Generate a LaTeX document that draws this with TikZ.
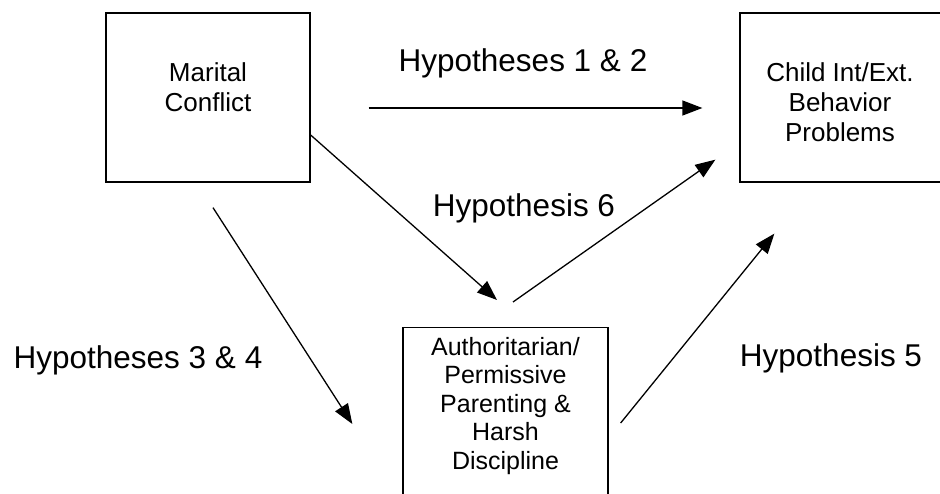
\documentclass[tikz,border=0pt]{standalone}
\usepackage{fontspec}
\setmainfont{Liberation Sans}
\usetikzlibrary{arrows.meta}

\begin{document}
\begin{tikzpicture}[x=1pt,y=-1pt,
    box/.style={draw, line width=1.3pt, inner sep=0pt},
    boxtext/.style={align=center, font=\fontsize{26}{30}\selectfont},
    hyp/.style={font=\fontsize{31.5}{36}\selectfont},
    arrow/.style={line width=1.3pt, -{Triangle[length=20pt,width=15pt]}}]
  \useasboundingbox (0,0) rectangle (940,494);
  \clip (0,0) rectangle (940,494);

  \node [box, minimum width=204pt, minimum height=169pt] (mc) at (208,97.5) {};
  \node [boxtext] (mctext) at (208,87) {Marital\\Conflict};

  \node [box, minimum width=210pt, minimum height=169pt] (ch) at (845,97.5) {};
  \node [boxtext] (chtext) at (840,102) {Child Int/Ext.\\Behavior\\Problems};

  \node [box, minimum width=205pt, minimum height=200pt, anchor=north] (pa) at (505.5,327) {};
  \node [boxtext, font=\fontsize{25}{28.5}\selectfont] (patext) at (505.5,406)
    {Authoritarian/\\Permissive\\Parenting \&\\Harsh\\Discipline};

  \node [hyp] (h12) at (523,63) {Hypotheses 1 \& 2};
  \node [hyp] (h6) at (524,208) {Hypothesis 6};
  \node [hyp] (h34) at (138,360) {Hypotheses 3 \& 4};
  \node [hyp] (h5) at (831,358) {Hypothesis 5};

  \draw [arrow] ([xshift=58pt,yshift=-10.5pt]mc.east) -- ([xshift=-37pt,yshift=-10.5pt]ch.west);
  \draw [arrow] ([yshift=-37.5pt]mc.east) -- ([xshift=-8.5pt,yshift=27pt]pa.north);
  \draw [arrow] ([xshift=7.5pt,yshift=25pt]pa.north) -- ([xshift=-24pt,yshift=23pt]ch.south west);
  \draw [arrow] ([xshift=5pt,yshift=-25pt]mc.south) -- ([xshift=-50pt,yshift=-97pt]pa.north west);
  \draw [arrow] ([xshift=12pt,yshift=-96pt]pa.north east) -- ([xshift=35pt,yshift=-51pt]ch.south west);
\end{tikzpicture}
\end{document}
